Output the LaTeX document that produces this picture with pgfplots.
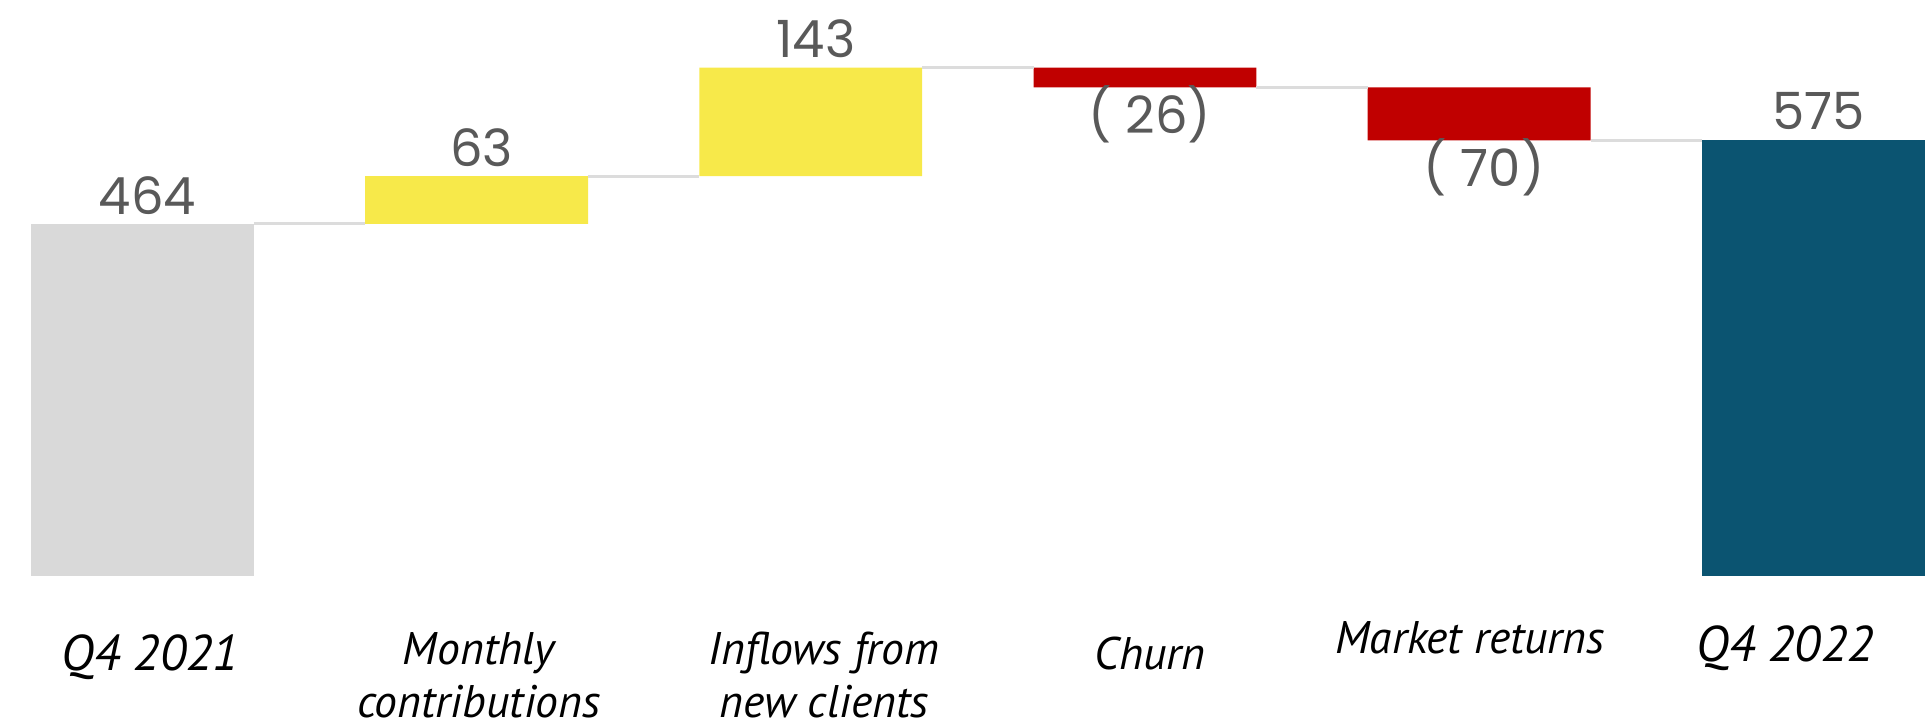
\documentclass[border=0pt]{standalone}
\usepackage{pgfplots}
\pgfplotsset{compat=1.18}
\usepackage{fontspec}
\setmainfont{PT Sans}
\newfontfamily\valfont{Poppins}

\definecolor{startgray}{HTML}{D9D9D9}
\definecolor{gainyellow}{HTML}{F7E94A}
\definecolor{lossred}{HTML}{C00000}
\definecolor{endteal}{HTML}{0B5471}
\definecolor{connector}{HTML}{DCDCDC}
\definecolor{valgray}{HTML}{595959}

\pgfplotsset{
  wf/.style={
    scale only axis, width=193.1mm, height=72.7mm,
    xmin=-0.426, xmax=5.352, ymin=-199, ymax=759,
    axis lines=none, ticks=none, clip=false,
  },
}
\tikzset{
  vlab/.style={font=\valfont\fontsize{14.6}{17}\selectfont, text=valgray, anchor=base, inner sep=0pt},
  clab/.style={font=\itshape\fontsize{13}{15.6}\selectfont, text=black, anchor=base, inner sep=0pt},
  qlab/.style={font=\itshape\fontsize{14.3}{17}\selectfont, text=black, anchor=base, inner sep=0pt},
}

\begin{document}
\begin{tikzpicture}
% waterfall bars: an invisible base series carries each step to its level
\begin{axis}[wf, ybar stacked, bar width=0.667]
  \addplot[fill=none, draw=none] coordinates {(0,0) (1,464) (2,527) (3,644) (4,574) (5,0)};
  \addplot[fill=startgray, draw=none] coordinates {(0,464) (1,0) (2,0) (3,0) (4,0) (5,0)};
  \addplot[fill=gainyellow, draw=none] coordinates {(0,0) (1,63) (2,143) (3,0) (4,0) (5,0)};
  \addplot[fill=lossred, draw=none] coordinates {(0,0) (1,0) (2,0) (3,26) (4,70) (5,0)};
  \addplot[fill=endteal, draw=none] coordinates {(0,0) (1,0) (2,0) (3,0) (4,0) (5,575)};
\end{axis}
% connectors and labels
\begin{axis}[wf]
  \coordinate (bl) at (rel axis cs:0,0);
  \coordinate (tr) at (rel axis cs:1,1);

  \addplot[connector, line width=0.85pt, mark=none] coordinates {(0.3335,464) (0.6665,464)};
  \addplot[connector, line width=0.85pt, mark=none] coordinates {(1.3335,527) (1.6665,527)};
  \addplot[connector, line width=0.85pt, mark=none] coordinates {(2.3335,670) (2.6665,670)};
  \addplot[connector, line width=0.85pt, mark=none] coordinates {(3.3335,644) (3.6665,644)};
  \addplot[connector, line width=0.85pt, mark=none] coordinates {(4.3335,574) (4.6665,574)};

  \node[vlab] at (axis cs:0.015,477) {464};
  \node[vlab] at (axis cs:1.015,540) {63};
  \node[vlab] at (axis cs:2.015,683) {143};
  \node[vlab] at (axis cs:3.015,583) {( 26)};
  \node[vlab] at (axis cs:4.015,513) {( 70)};
  \node[vlab] at (axis cs:5.015,588) {575};

  \node[qlab] at (axis cs:0.023,-124) {Q4 2021};
  \node[clab] at (axis cs:1.007,-117) {Monthly};
  \node[clab] at (axis cs:1.007,-186) {contributions};
  \node[clab] at (axis cs:2.040,-117) {Inflows from};
  \node[clab] at (axis cs:2.040,-186) {new clients};
  \node[clab] at (axis cs:3.015,-123) {Churn};
  \node[clab] at (axis cs:3.973,-101.5) {Market returns};
  \node[qlab] at (axis cs:4.915,-113) {Q4 2022};
\end{axis}
\pgfresetboundingbox
\useasboundingbox (bl) rectangle (tr);
\end{tikzpicture}
\end{document}
